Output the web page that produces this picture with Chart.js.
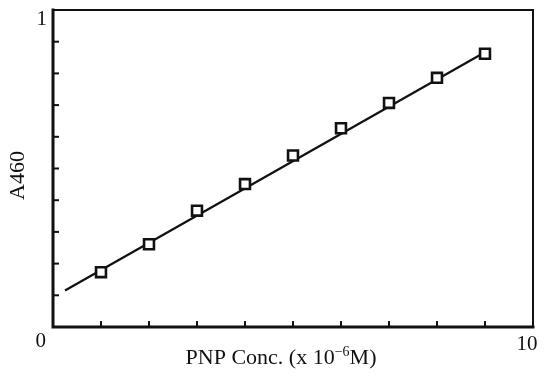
<!DOCTYPE html>
<html>
<head>
<meta charset="utf-8">
<script src="https://cdn.jsdelivr.net/npm/chart.js@4.4.1/dist/chart.umd.min.js"></script>
<style>
    body { margin: 0; background: #fff; }
    #wrap { width: 548px; height: 379px; position: relative; }
</style>
</head>
<body>
<div id="wrap"><canvas id="pnpChart"></canvas></div>
<script>
// data
const concX = [1, 2, 3, 4, 5, 6, 7, 8, 9];
const a460 = [0.173, 0.261, 0.367, 0.451, 0.541, 0.627, 0.707, 0.786, 0.862];
const fitX = [0.25, 9.08];
const fitY = [0.115, 0.874];
const xTickVals = [1, 2, 3, 4, 5, 6, 7, 8, 9];
const yTickVals = [0.1, 0.2, 0.3, 0.4, 0.5, 0.6, 0.7, 0.8, 0.9];
const xTickText = ['0', '10'];
const yTickText = ['1'];

const ink = '#111';
const serif = '"Liberation Serif", "DejaVu Serif", serif';

// frame, inner tick marks and texts
const framePlugin = {
    id: 'frame',
    beforeDatasetsDraw(chart) {
        const ctx = chart.ctx;
        const a = chart.chartArea;
        const xs = chart.scales.x;
        const ys = chart.scales.y;
        ctx.save();
        ctx.strokeStyle = ink;
        ctx.lineCap = 'square';

        ctx.lineWidth = 2;
        ctx.beginPath();
        ctx.moveTo(a.left, a.top);
        ctx.lineTo(a.right, a.top);
        ctx.lineTo(a.right, a.bottom);
        ctx.stroke();

        ctx.lineWidth = 3;
        ctx.beginPath();
        ctx.moveTo(a.left, a.top);
        ctx.lineTo(a.left, a.bottom);
        ctx.lineTo(a.right, a.bottom);
        ctx.stroke();

        ctx.lineWidth = 2;
        ctx.lineCap = 'butt';
        xTickVals.forEach(v => {
            const px = xs.getPixelForValue(v);
            ctx.beginPath();
            ctx.moveTo(px, a.bottom);
            ctx.lineTo(px, a.bottom - 6);
            ctx.stroke();
        });
        yTickVals.forEach(v => {
            const py = ys.getPixelForValue(v);
            ctx.beginPath();
            ctx.moveTo(a.left, py);
            ctx.lineTo(a.left + 6, py);
            ctx.stroke();
        });
        ctx.restore();
    },
    afterDraw(chart) {
        const ctx = chart.ctx;
        const a = chart.chartArea;
        const xs = chart.scales.x;
        const ys = chart.scales.y;
        ctx.save();
        ctx.fillStyle = ink;
        ctx.textBaseline = 'middle';
        ctx.font = '21px ' + serif;

        ctx.textAlign = 'right';
        ctx.fillText(yTickText[0], a.left - 6, ys.getPixelForValue(1) + 9);
        ctx.fillText(xTickText[0], a.left - 7, a.bottom + 14);
        ctx.textAlign = 'center';
        ctx.fillText(xTickText[1], xs.getPixelForValue(10) - 6, a.bottom + 17);

        // y title
        ctx.save();
        ctx.font = '22px ' + serif;
        ctx.translate(18, (a.top + a.bottom) / 2 + 7);
        ctx.rotate(-Math.PI / 2);
        ctx.textAlign = 'center';
        ctx.fillText('A460', 0, 0);
        ctx.restore();

        // x title with superscript
        const p1 = 'PNP Conc. (x 10';
        const sup = '\u22126';
        const p2 = 'M)';
        ctx.font = '22px ' + serif;
        const w1 = ctx.measureText(p1).width;
        const w3 = ctx.measureText(p2).width;
        ctx.font = '14px ' + serif;
        const w2 = ctx.measureText(sup).width;
        let x0 = 281 - (w1 + w2 + w3) / 2;
        const yT = a.bottom + 31;
        ctx.textAlign = 'left';
        ctx.font = '22px ' + serif;
        ctx.fillText(p1, x0, yT);
        ctx.font = '14px ' + serif;
        ctx.fillText(sup, x0 + w1, yT - 6);
        ctx.font = '22px ' + serif;
        ctx.fillText(p2, x0 + w1 + w2, yT);
        ctx.restore();
    }
};

const ctx = document.getElementById('pnpChart').getContext('2d');

new Chart(ctx, {
    type: 'scatter',
    data: {
        datasets: [
            {
                label: 'A460',
                data: concX.map((x, i) => ({ x: x, y: a460[i] })),
                pointStyle: 'rect',
                pointRadius: 7,
                pointBorderWidth: 2.6,
                pointBackgroundColor: '#fff',
                pointBorderColor: ink,
                showLine: false
            },
            {
                label: 'fit',
                data: fitX.map((x, i) => ({ x: x, y: fitY[i] })),
                showLine: true,
                borderColor: ink,
                borderWidth: 2.2,
                pointRadius: 0
            }
        ]
    },
    options: {
        responsive: true,
        maintainAspectRatio: false,
        animation: false,
        layout: { padding: { left: 53, top: 10, right: 15, bottom: 52 } },
        scales: {
            x: { type: 'linear', min: 0, max: 10, display: false },
            y: { type: 'linear', min: 0, max: 1, display: false }
        },
        plugins: {
            legend: { display: false },
            tooltip: { enabled: false }
        }
    },
    plugins: [framePlugin]
});
</script>
</body>
</html>
